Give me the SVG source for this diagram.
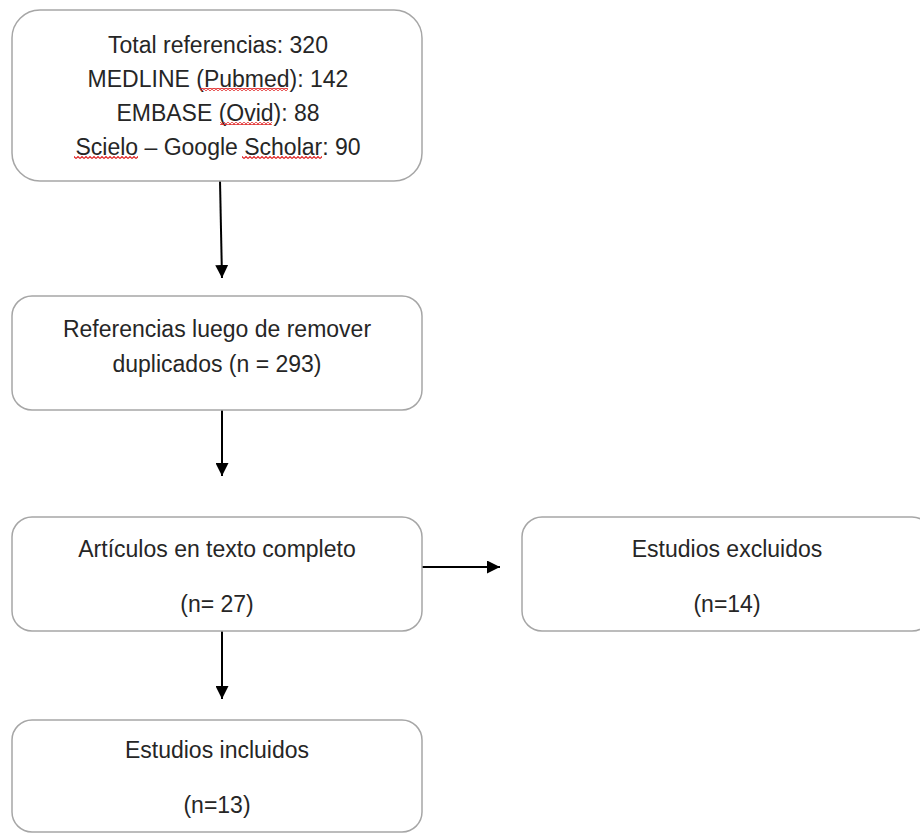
<svg xmlns="http://www.w3.org/2000/svg" width="920" height="833" viewBox="0 0 920 833">
<style>
.box{fill:#fff;stroke:#a6a6a6;stroke-width:1.5}
.t{font-family:"Liberation Sans",Arial,sans-serif;font-size:23px;fill:#262626;text-anchor:middle}
.c{stroke:#000;stroke-width:2;fill:none}
.sq{fill:url(#wavy)}
</style>
<defs>
<marker id="ah" viewBox="0 0 12 12" refX="12" refY="6" markerWidth="13" markerHeight="13" markerUnits="userSpaceOnUse" orient="auto">
<path d="M0,0 L12,6 L0,12 z" fill="#000"/>
</marker>
<pattern id="wavy" width="4" height="3" patternUnits="userSpaceOnUse">
<path d="M0,2.5 L2,0.5 L4,2.5" fill="none" stroke="#e02020" stroke-width="1.1"/>
</pattern>
</defs>
<rect width="920" height="833" fill="#fff"/>
<g id="connectors">
<line class="c" x1="220" y1="181" x2="222" y2="278" marker-end="url(#ah)"/>
<line class="c" x1="222" y1="410" x2="222" y2="476" marker-end="url(#ah)"/>
<line class="c" x1="422" y1="567" x2="500" y2="567" marker-end="url(#ah)"/>
<line class="c" x1="222" y1="631" x2="222" y2="699" marker-end="url(#ah)"/>
</g>
<g id="n1">
<rect class="box" x="12" y="10" width="410" height="171" rx="28"/>
<text class="t" x="218" y="53">Total referencias: 320</text>
<text class="t" x="218" y="87">MEDLINE (Pubmed): 142</text>
<text class="t" x="218" y="121">EMBASE (Ovid): 88</text>
<text class="t" x="218" y="155">Scielo – Google Scholar: 90</text>
<rect class="sq" x="200" y="88" width="88" height="3"/>
<rect class="sq" x="220" y="122" width="52" height="3"/>
<rect class="sq" x="74" y="156" width="64" height="3"/>
<rect class="sq" x="242" y="156" width="80" height="3"/>
</g>
<g id="n2">
<rect class="box" x="12" y="296" width="410" height="114" rx="20"/>
<text class="t" x="217" y="337">Referencias luego de remover</text>
<text class="t" x="217" y="372">duplicados (n = 293)</text>
</g>
<g id="n3">
<rect class="box" x="12" y="517" width="410" height="114" rx="20"/>
<text class="t" x="217" y="557">Artículos en texto completo</text>
<text class="t" x="217" y="612">(n= 27)</text>
</g>
<g id="n4">
<rect class="box" x="522" y="517" width="410" height="114" rx="20"/>
<text class="t" x="727" y="557">Estudios excluidos</text>
<text class="t" x="727" y="612">(n=14)</text>
</g>
<g id="n5">
<rect class="box" x="12" y="720" width="410" height="112" rx="20"/>
<text class="t" x="217" y="758">Estudios incluidos</text>
<text class="t" x="217" y="813">(n=13)</text>
</g>
</svg>
